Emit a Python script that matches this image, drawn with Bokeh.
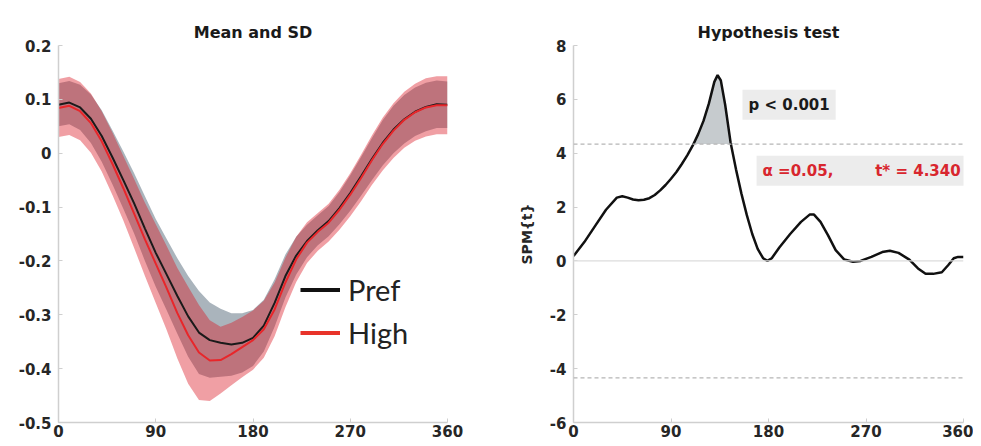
import numpy as np
from bokeh.plotting import figure
from bokeh.layouts import row
from bokeh.models import (Span, Label, Legend, LegendItem, FixedTicker, Range1d)
from bokeh.embed import file_html
from bokeh.resources import INLINE

# ---------------- data ----------------
angle = [0, 10, 20, 30, 40, 50, 60, 70, 80, 90, 100, 110, 120, 130, 140, 150, 160, 170, 180,
         190, 200, 210, 220, 230, 240, 250, 260, 270, 280, 290, 300, 310, 320, 330, 340, 350, 360]

pref_mean = [0.090, 0.094, 0.085, 0.064, 0.032, -0.008, -0.050, -0.093, -0.140, -0.185, -0.225,
             -0.265, -0.303, -0.333, -0.347, -0.352, -0.355, -0.352, -0.343, -0.320, -0.278,
             -0.228, -0.190, -0.163, -0.143, -0.126, -0.102, -0.074, -0.043, -0.011, 0.019,
             0.044, 0.063, 0.077, 0.086, 0.091, 0.090]
pref_sd = [0.040, 0.040, 0.042, 0.045, 0.048, 0.050, 0.053, 0.056, 0.060, 0.063, 0.066, 0.070,
           0.075, 0.077, 0.070, 0.063, 0.058, 0.055, 0.052, 0.048, 0.044, 0.040, 0.035, 0.030,
           0.028, 0.028, 0.030, 0.033, 0.036, 0.039, 0.042, 0.044, 0.045, 0.045, 0.045, 0.044, 0.043]

high_mean = [0.084, 0.088, 0.078, 0.056, 0.022, -0.020, -0.065, -0.112, -0.160, -0.205, -0.250,
             -0.297, -0.338, -0.370, -0.385, -0.384, -0.373, -0.360, -0.347, -0.327, -0.290,
             -0.240, -0.197, -0.166, -0.146, -0.129, -0.105, -0.077, -0.046, -0.013, 0.017,
             0.042, 0.062, 0.076, 0.085, 0.089, 0.089]
high_sd = [0.054, 0.054, 0.054, 0.055, 0.056, 0.058, 0.060, 0.064, 0.068, 0.073, 0.078, 0.084,
           0.090, 0.088, 0.075, 0.062, 0.058, 0.056, 0.055, 0.053, 0.050, 0.046, 0.042, 0.038,
           0.035, 0.035, 0.037, 0.040, 0.043, 0.046, 0.049, 0.051, 0.052, 0.053, 0.054, 0.054, 0.054]

spm_x = [0, 10, 20, 30, 40, 45, 50, 55, 60, 65, 70, 75, 80, 85, 90, 95, 100, 105, 110, 115, 120,
         125, 130, 133, 136, 140, 145, 150, 155, 160, 165, 170, 175, 179, 183, 190, 200, 210, 218,
         222, 228, 235, 242, 250, 258, 265, 275, 285, 292, 300, 310, 318, 325, 332, 340, 346, 351,
         355, 360]
spm_t = [0.18, 0.70, 1.30, 1.90, 2.35, 2.40, 2.35, 2.28, 2.25, 2.27, 2.33, 2.45, 2.62, 2.82, 3.05,
         3.30, 3.60, 3.92, 4.28, 4.70, 5.20, 5.85, 6.65, 6.90, 6.70, 5.80, 4.40, 3.40, 2.50, 1.70,
         1.00, 0.45, 0.10, 0.00, 0.10, 0.50, 1.00, 1.45, 1.72, 1.72, 1.45, 0.95, 0.40, 0.05, -0.03,
         0.00, 0.15, 0.33, 0.38, 0.30, 0.05, -0.28, -0.48, -0.48, -0.42, -0.15, 0.10, 0.15, 0.15]
t_star = 4.34

x_ticks = [0, 90, 180, 270, 360]
left_y_ticks = [-0.5, -0.4, -0.3, -0.2, -0.1, 0, 0.1, 0.2]
left_y_labels = ["-0.5", "-0.4", "-0.3", "-0.2", "-0.1", "0", "0.1", "0.2"]
right_y_ticks = [-6, -4, -2, 0, 2, 4, 6, 8]
right_y_labels = ["-6", "-4", "-2", "0", "2", "4", "6", "8"]

# ---------------- styling helpers ----------------
AXIS_COLOR = "#cfcfcf"
TICK_FONT = "DejaVu Sans"


def style_axes(p):
    for ax in (p.xaxis, p.yaxis):
        ax.axis_line_color = AXIS_COLOR
        ax.axis_line_width = 1.5
        ax.major_tick_line_color = AXIS_COLOR
        ax.major_tick_in = 4
        ax.major_tick_out = 0
        ax.minor_tick_line_color = None
        ax.major_label_text_font = TICK_FONT
        ax.major_label_text_font_style = "bold"
        ax.major_label_text_font_size = "15px"
        ax.major_label_text_color = "#262626"
    p.xaxis.major_label_standoff = 2
    p.yaxis.major_label_standoff = 7
    p.xaxis.ticker = FixedTicker(ticks=x_ticks)
    p.xgrid.visible = False
    p.ygrid.visible = False
    p.outline_line_color = None
    p.title.align = "center"
    p.title.text_font = TICK_FONT
    p.title.text_font_style = "bold"
    p.title.text_font_size = "16px"
    p.title.text_color = "#1a1a1a"
    p.title.standoff = 7


# ---------------- left: Mean and SD ----------------
p1 = figure(width=500, height=440, output_backend="svg", toolbar_location=None,
            title="Mean and SD", x_range=Range1d(0, 360), y_range=Range1d(-0.5, 0.2),
            min_border_left=58, min_border_right=53, min_border_top=45, min_border_bottom=18)
style_axes(p1)
p1.yaxis.ticker = FixedTicker(ticks=left_y_ticks)
p1.yaxis.major_label_overrides = {v: s for v, s in zip(left_y_ticks, left_y_labels)}

pm = np.array(pref_mean)
ps = np.array(pref_sd)
hm = np.array(high_mean)
hs = np.array(high_sd)

p1.varea(x=angle, y1=pm - ps, y2=pm + ps, fill_color="#55697a", fill_alpha=0.5)
p1.varea(x=angle, y1=hm - hs, y2=hm + hs, fill_color="#da1723", fill_alpha=0.41)
p1.line(x=angle, y=pref_mean, line_color="#1a1a1a", line_width=2)
p1.line(x=angle, y=high_mean, line_color="#e8262a", line_width=2)

# legend-only renderers: mapped onto an off-screen range so only their legend swatch shows
p1.extra_y_ranges = {"legend_only": Range1d(10, 11)}
leg_pref = p1.line(x=angle, y=pref_mean, y_range_name="legend_only",
                   line_color="#111111", line_width=4)
leg_high = p1.line(x=angle, y=high_mean, y_range_name="legend_only",
                   line_color="#e8332a", line_width=4)
legend = Legend(items=[LegendItem(label="Pref", renderers=[leg_pref]),
                       LegendItem(label="High", renderers=[leg_high])],
                location=(242, 68), background_fill_alpha=0, border_line_alpha=0,
                padding=0, margin=0, spacing=0, glyph_width=40, glyph_height=43,
                label_height=43, label_standoff=8, label_text_font="Lato",
                label_text_font_size="29px", label_text_color="#222222")
p1.add_layout(legend)

# ---------------- right: Hypothesis test ----------------
p2 = figure(width=473, height=440, output_backend="svg", toolbar_location=None,
            title="Hypothesis test", x_range=Range1d(0, 360), y_range=Range1d(-6, 8),
            min_border_left=73, min_border_right=10, min_border_top=45, min_border_bottom=18)
style_axes(p2)
p2.yaxis.ticker = FixedTicker(ticks=right_y_ticks)
p2.yaxis.major_label_overrides = {v: s for v, s in zip(right_y_ticks, right_y_labels)}
p2.yaxis.axis_label = "SPM{t}"
p2.yaxis.axis_label_text_font = TICK_FONT
p2.yaxis.axis_label_text_font_style = "bold"
p2.yaxis.axis_label_text_font_size = "14px"
p2.yaxis.axis_label_text_color = "#262626"
p2.yaxis.axis_label_standoff = 12

p2.add_layout(Span(location=0, dimension="width", line_color="#dcdcdc", line_width=1.2))
p2.add_layout(Span(location=t_star, dimension="width", line_color="#b5b5b5",
                   line_width=1.3, line_dash="4 3"))
p2.add_layout(Span(location=-t_star, dimension="width", line_color="#b5b5b5",
                   line_width=1.3, line_dash="4 3"))

st = np.array(spm_t)
p2.varea(x=spm_x, y1=np.full(len(spm_x), t_star), y2=np.maximum(st, t_star),
         fill_color="#c6cbce", fill_alpha=1.0)
p2.line(x=spm_x, y=spm_t, line_color="#111111", line_width=2.5)

p2.add_layout(Label(x=156, y=5.8, text="p < 0.001", text_font=TICK_FONT,
                    text_font_style="bold", text_font_size="15px", text_color="#1a1a1a",
                    text_baseline="middle", background_fill_color="#ececec",
                    padding=6))
p2.add_layout(Label(x=169, y=3.35,
                    text="\u03b1 =0.05,\u00a0\u00a0\u00a0\u00a0\u00a0\u00a0\u00a0 t* = 4.340",
                    text_font=TICK_FONT, text_font_style="bold", text_font_size="15px",
                    text_color="#d8262e", text_baseline="middle",
                    background_fill_color="#ececec", padding=6))

layout = row(p1, p2)
open("out.html", "w").write(file_html(layout, INLINE))
